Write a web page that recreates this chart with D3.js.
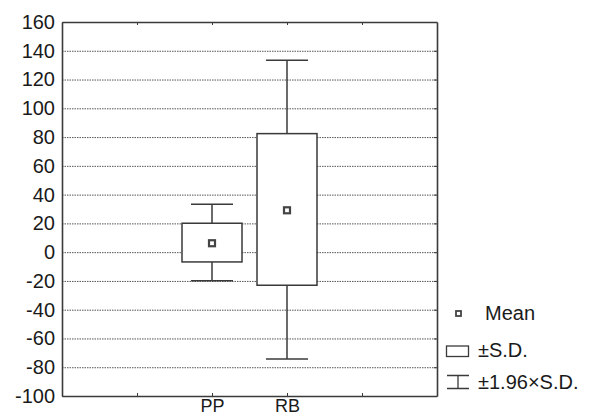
<!DOCTYPE html>
<html>
<head>
<meta charset="utf-8">
<script src="https://cdn.jsdelivr.net/npm/d3@7"></script>
<style>
  body { margin: 0; background: #fff; }
  svg text { font-family: "Liberation Sans", Arial, sans-serif; fill: #1a1a1a; }
</style>
</head>
<body>
<svg id="chart" width="591" height="416"></svg>
<script>
// values
var groups = ["PP", "RB"];
var groupPos = [2, 3];
var means = [6.2, 29.1];
var sdLow = [-6.8, -23.0];
var sdHigh = [20.1, 82.4];
var ciLow = [-19.8, -74.2];
var ciHigh = [33.3, 133.4];
var yTicks = [-100, -80, -60, -40, -20, 0, 20, 40, 60, 80, 100, 120, 140, 160];
var xTicks = [1, 2, 3, 4];
var legendLabels = ["Mean", "\u00b1S.D.", "\u00b11.96\u00d7S.D."];

var margin = {left: 62, right: 154, top: 22, bottom: 20};
var width = 591 - margin.left - margin.right;
var height = 416 - margin.top - margin.bottom;
var ink = "#3a3a3a";

var svg = d3.select("#chart")
    .append("g")
    .attr("transform", "translate(" + margin.left + "," + margin.top + ")");

var x = d3.scaleLinear().domain([0, 5]).range([0, width]);
var y = d3.scaleLinear().domain([-100, 160]).range([height, 0]);

// dotted gridlines
svg.append("g")
    .attr("class", "grid")
    .call(d3.axisLeft(y).tickValues(yTicks).tickSize(-width).tickFormat(""))
    .call(g => g.select(".domain").remove())
    .call(g => g.selectAll("line")
        .attr("stroke", "#555")
        .attr("stroke-width", 1)
        .attr("stroke-dasharray", "1.5,1"));

// axes
var labelAt = function(d) {
    var i = groupPos.indexOf(d);
    return i < 0 ? "" : groups[i];
};

function styleAxis(g) {
    g.select(".domain").attr("stroke", ink).attr("stroke-width", 1.6);
    g.selectAll(".tick line").attr("stroke", ink);
    g.selectAll("text")
        .attr("font-size", 20)
        .attr("font-family", "Liberation Sans, Arial, sans-serif")
        .attr("fill", "#1a1a1a");
}

svg.append("g")
    .call(d3.axisLeft(y).tickValues(yTicks).tickSize(0).tickPadding(7)
        .tickFormat(d => String(d)).tickSizeOuter(0))
    .call(styleAxis);

svg.append("g")
    .attr("transform", "translate(" + width + ",0)")
    .call(d3.axisRight(y).tickValues(yTicks).tickSize(-3).tickFormat("").tickSizeOuter(0))
    .call(styleAxis);

svg.append("g")
    .call(d3.axisTop(x).tickValues(xTicks).tickSize(-3).tickFormat("").tickSizeOuter(0))
    .call(styleAxis);

svg.append("g")
    .attr("transform", "translate(0," + height + ")")
    .call(d3.axisBottom(x).tickValues(xTicks).tickSize(-3).tickPadding(3).tickFormat(labelAt).tickSizeOuter(0))
    .call(styleAxis)
    .call(g => g.selectAll("text").attr("font-size", 18));

// boxes and whiskers
var boxW = 60, capW = 42;
var items = groups.map(function(name, i) {
    return {name: name, pos: groupPos[i], mean: means[i], lo: sdLow[i], hi: sdHigh[i], cl: ciLow[i], ch: ciHigh[i]};
});

var box = svg.selectAll(".box")
    .data(items)
    .enter().append("g")
    .attr("class", "box");

box.append("line")
    .attr("x1", d => x(d.pos)).attr("x2", d => x(d.pos))
    .attr("y1", d => y(d.ch)).attr("y2", d => y(d.hi))
    .attr("stroke", ink).attr("stroke-width", 1.5);
box.append("line")
    .attr("x1", d => x(d.pos)).attr("x2", d => x(d.pos))
    .attr("y1", d => y(d.lo)).attr("y2", d => y(d.cl))
    .attr("stroke", ink).attr("stroke-width", 1.5);
box.append("line")
    .attr("x1", d => x(d.pos) - capW / 2).attr("x2", d => x(d.pos) + capW / 2)
    .attr("y1", d => y(d.ch)).attr("y2", d => y(d.ch))
    .attr("stroke", ink).attr("stroke-width", 1.5);
box.append("line")
    .attr("x1", d => x(d.pos) - capW / 2).attr("x2", d => x(d.pos) + capW / 2)
    .attr("y1", d => y(d.cl)).attr("y2", d => y(d.cl))
    .attr("stroke", ink).attr("stroke-width", 1.5);
box.append("rect")
    .attr("x", d => x(d.pos) - boxW / 2)
    .attr("width", boxW)
    .attr("y", d => y(d.hi))
    .attr("height", d => y(d.lo) - y(d.hi))
    .attr("fill", "#fff")
    .attr("stroke", ink).attr("stroke-width", 1.5);
box.append("rect")
    .attr("x", d => x(d.pos) - 3)
    .attr("y", d => y(d.mean) - 3)
    .attr("width", 6).attr("height", 6)
    .attr("fill", "#fff")
    .attr("stroke", "#444").attr("stroke-width", 2.2);

// legend
var legend = d3.select("#chart").append("g")
    .attr("transform", "translate(446,0)");

legend.append("rect")
    .attr("x", 10).attr("y", 311).attr("width", 5).attr("height", 5)
    .attr("fill", "#fff").attr("stroke", "#444").attr("stroke-width", 1.8);
legend.append("rect")
    .attr("x", 0.5).attr("y", 346).attr("width", 22).attr("height", 10.5)
    .attr("fill", "#fff").attr("stroke", ink).attr("stroke-width", 1.3);
legend.append("path")
    .attr("d", "M1,375.5H23M12,375.5V388.5M1,388.5H23")
    .attr("fill", "none").attr("stroke", ink).attr("stroke-width", 1.3);

legend.selectAll("text")
    .data(legendLabels)
    .enter().append("text")
    .attr("x", (d, i) => i === 0 ? 39 : 32)
    .attr("y", (d, i) => [313, 350, 382][i])
    .attr("dy", "0.35em")
    .attr("font-size", 20)
    .text(d => d);
</script>
</body>
</html>
